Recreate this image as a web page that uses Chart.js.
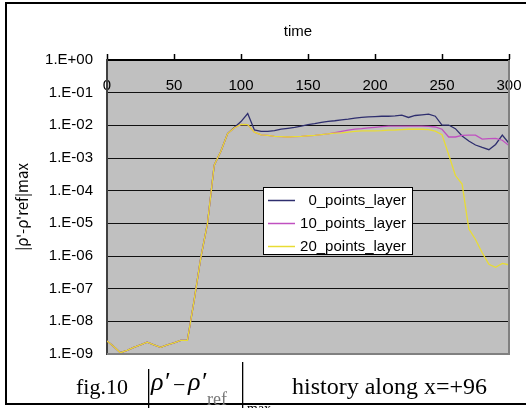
<!DOCTYPE html>
<html>
<head>
<meta charset="utf-8">
<script src="https://cdn.jsdelivr.net/npm/chart.js@4.4.0/dist/chart.umd.min.js"></script>
<style>
  html, body { margin: 0; padding: 0; background: #fff; }
  canvas { display: block; }
</style>
</head>
<body>
<canvas id="c" width="526" height="408"></canvas>
<script>
// time samples shared by all three series
const times = [
  0, 5, 10, 15, 20, 25, 30, 35, 40, 45, 50, 55, 60, 65, 70, 75, 80, 85, 90, 95,
  100, 105, 110, 115, 120, 125, 130, 135, 140, 145, 150, 155, 160, 165, 170, 175, 180, 185, 190, 195,
  200, 205, 210, 215, 220, 225, 230, 235, 240, 245, 250, 255, 260, 265, 270, 275, 280, 285, 290, 295,
  300
];

// |rho' - rho'ref|max for each absorbing-layer width
const layer0 = [
  2.5e-9, 1.7e-9, 1.1e-9, 1.3e-9, 1.6e-9, 1.9e-9, 2.3e-9, 1.9e-9, 1.6e-9, 1.9e-9,
  2.2e-9, 2.6e-9, 2.6e-9, 4.3e-8, 8.9e-7, 1.0e-5, 6.0e-4, 1.6e-3, 5.6e-3, 8.6e-3,
  1.3e-2, 2.3e-2, 7.2e-3, 6.5e-3, 6.5e-3, 6.9e-3, 7.6e-3, 8.1e-3, 8.7e-3, 9.5e-3,
  1.05e-2, 1.12e-2, 1.23e-2, 1.32e-2, 1.38e-2, 1.48e-2, 1.55e-2, 1.66e-2, 1.74e-2, 1.82e-2,
  1.86e-2, 1.9e-2, 1.9e-2, 1.95e-2, 2.04e-2, 1.74e-2, 2.0e-2, 2.1e-2, 2.2e-2, 1.9e-2,
  1.02e-2, 1.02e-2, 7.9e-3, 4.7e-3, 3.3e-3, 2.5e-3, 2.1e-3, 1.8e-3, 2.6e-3, 5.0e-3,
  2.8e-3
];
const layer10 = [
  2.5e-9, 1.7e-9, 1.1e-9, 1.3e-9, 1.6e-9, 1.9e-9, 2.3e-9, 1.9e-9, 1.6e-9, 1.9e-9,
  2.2e-9, 2.6e-9, 2.6e-9, 4.3e-8, 8.9e-7, 1.0e-5, 6.0e-4, 1.6e-3, 5.6e-3, 8.3e-3,
  1.07e-2, 1.05e-2, 6.2e-3, 5.1e-3, 4.9e-3, 4.6e-3, 4.5e-3, 4.4e-3, 4.5e-3, 4.6e-3,
  4.8e-3, 4.9e-3, 5.2e-3, 5.5e-3, 6.0e-3, 6.5e-3, 7.1e-3, 7.6e-3, 7.9e-3, 8.3e-3,
  8.7e-3, 9.1e-3, 9.5e-3, 9.5e-3, 9.5e-3, 9.5e-3, 9.5e-3, 9.5e-3, 9.3e-3, 8.9e-3,
  7.6e-3, 4.4e-3, 4.4e-3, 4.9e-3, 5.0e-3, 5.0e-3, 3.8e-3, 3.9e-3, 4.0e-3, 3.5e-3,
  2.4e-3
];
const layer20 = [
  2.5e-9, 1.7e-9, 1.1e-9, 1.3e-9, 1.6e-9, 1.9e-9, 2.3e-9, 1.9e-9, 1.6e-9, 1.9e-9,
  2.2e-9, 2.6e-9, 2.6e-9, 4.3e-8, 8.9e-7, 1.0e-5, 6.0e-4, 1.6e-3, 5.6e-3, 8.3e-3,
  1.07e-2, 1.05e-2, 6.2e-3, 5.1e-3, 4.9e-3, 4.6e-3, 4.5e-3, 4.4e-3, 4.5e-3, 4.6e-3,
  4.8e-3, 4.9e-3, 5.2e-3, 5.5e-3, 5.8e-3, 5.9e-3, 6.2e-3, 6.5e-3, 6.8e-3, 6.8e-3,
  6.8e-3, 6.9e-3, 7.1e-3, 7.2e-3, 7.4e-3, 7.6e-3, 7.6e-3, 7.6e-3, 7.4e-3, 6.6e-3,
  5.2e-3, 1.26e-3, 2.9e-4, 1.6e-4, 6.8e-6, 3.2e-6, 1.26e-6, 5.6e-7, 4.5e-7, 5.9e-7,
  5.4e-7
];

const seriesNames = ['0_points_layer', '10_points_layer', '20_points_layer'];
const seriesColors = ['#2e2e6e', '#c050c0', '#e8dc34'];

const xTickValues = [0, 50, 100, 150, 200, 250, 300];
const yTickValues = [1, 1e-1, 1e-2, 1e-3, 1e-4, 1e-5, 1e-6, 1e-7, 1e-8, 1e-9];
const yTickLabels = ['1.E+00', '1.E-01', '1.E-02', '1.E-03', '1.E-04',
                     '1.E-05', '1.E-06', '1.E-07', '1.E-08', '1.E-09'];

const toPoints = (vals) => vals.map((v, i) => ({ x: times[i], y: v }));

Chart.defaults.font.family = '"Liberation Sans", Arial, sans-serif';
Chart.defaults.font.size = 15;
Chart.defaults.color = '#000';

// grey plot area, its frame, the page frame, legend box and caption
const decor = {
  id: 'decor',
  beforeDraw(chart) {
    const { ctx, chartArea: a } = chart;
    ctx.save();
    ctx.fillStyle = '#c0c0c0';
    ctx.fillRect(a.left, a.top, a.right - a.left, a.bottom - a.top);
    ctx.restore();
  },
  afterDraw(chart) {
    const { ctx, chartArea: a } = chart;
    ctx.save();
    // plot area right / bottom edges
    ctx.strokeStyle = '#808080';
    ctx.lineWidth = 2;
    ctx.beginPath();
    ctx.moveTo(a.right, a.top);
    ctx.lineTo(a.right, a.bottom);
    ctx.lineTo(a.left, a.bottom);
    ctx.stroke();

    // horizontal axis title
    ctx.fillStyle = '#000';
    ctx.font = '15px "Liberation Sans", Arial, sans-serif';
    ctx.textAlign = 'center';
    ctx.textBaseline = 'middle';
    ctx.fillText('time', 298, 32);

    // legend
    const lx = 263, ly = 187, lw = 149, lh = 67;
    ctx.fillStyle = '#fff';
    ctx.fillRect(lx, ly, lw, lh);
    ctx.strokeStyle = '#000';
    ctx.lineWidth = 1;
    ctx.strokeRect(lx + 0.5, ly + 0.5, lw, lh);
    chart.data.datasets.forEach((ds, i) => {
      const y = 200 + i * 23;
      ctx.strokeStyle = ds.borderColor;
      ctx.lineWidth = 1.5;
      ctx.beginPath();
      ctx.moveTo(268, y + 0.5);
      ctx.lineTo(295, y + 0.5);
      ctx.stroke();
      ctx.fillStyle = '#000';
      ctx.font = '15px "Liberation Sans", Arial, sans-serif';
      ctx.textAlign = 'right';
      ctx.textBaseline = 'middle';
      ctx.fillText(ds.label, 406, y + 1);
    });

    // page frame
    ctx.strokeStyle = '#000';
    ctx.lineWidth = 2;
    ctx.beginPath();
    ctx.moveTo(526, 3);
    ctx.lineTo(6, 3);
    ctx.lineTo(6, 404);
    ctx.lineTo(526, 404);
    ctx.stroke();

    // caption
    ctx.fillStyle = '#000';
    ctx.textAlign = 'left';
    ctx.textBaseline = 'alphabetic';
    ctx.font = '22px "Liberation Serif", "Times New Roman", serif';
    ctx.fillText('fig.10', 76, 394);
    ctx.fillRect(148, 369, 1.3, 39);
    ctx.fillRect(242, 362, 1.3, 46);
    ctx.font = 'italic 26px "Liberation Serif", "Times New Roman", serif';
    ctx.fillText('ρ′', 151, 390);
    ctx.font = '22px "Liberation Serif", "Times New Roman", serif';
    ctx.fillText('−', 173, 392);
    ctx.font = 'italic 26px "Liberation Serif", "Times New Roman", serif';
    ctx.fillText('ρ′', 188, 390);
    ctx.fillStyle = '#777';
    ctx.font = '18px "Liberation Serif", "Times New Roman", serif';
    ctx.fillText('ref', 207, 405);
    ctx.fillStyle = '#000';
    ctx.font = '14px "Liberation Serif", "Times New Roman", serif';
    ctx.fillText('max', 247, 413);
    ctx.font = '24px "Liberation Serif", "Times New Roman", serif';
    ctx.fillText('history along x=+96', 292, 394);
    ctx.restore();
  }
};

new Chart(document.getElementById('c'), {
  type: 'line',
  data: {
    datasets: [
      { label: seriesNames[0], data: toPoints(layer0), borderColor: seriesColors[0], order: 2 },
      { label: seriesNames[1], data: toPoints(layer10), borderColor: seriesColors[1], order: 1 },
      { label: seriesNames[2], data: toPoints(layer20), borderColor: seriesColors[2], order: 0 }
    ]
  },
  options: {
    responsive: false,
    animation: false,
    devicePixelRatio: 1,
    layout: { padding: { left: 0, top: 0, right: 17, bottom: 54 } },
    elements: {
      point: { radius: 0 },
      line: { borderWidth: 1.3, tension: 0, fill: false }
    },
    plugins: {
      legend: { display: false },
      tooltip: { enabled: false }
    },
    scales: {
      x: {
        type: 'linear',
        position: 'top',
        min: 0,
        max: 300,
        afterBuildTicks: (scale) => { scale.ticks = xTickValues.map(v => ({ value: v })); },
        afterFit: (scale) => { scale.height = 60; },
        ticks: {
          mirror: true,
          padding: 4,
          maxRotation: 0,
          autoSkip: false,
          color: '#000',
          font: { size: 15, lineHeight: '44px' }
        },
        grid: {
          drawOnChartArea: false,
          drawTicks: true,
          tickLength: 6,
          tickColor: '#000',
          tickWidth: 1.5
        },
        border: { display: true, color: '#000', width: 2 }
      },
      y: {
        type: 'logarithmic',
        position: 'left',
        min: 1e-9,
        max: 1,
        afterBuildTicks: (scale) => { scale.ticks = yTickValues.map(v => ({ value: v })); },
        afterFit: (scale) => { scale.width = 107; },
        ticks: {
          padding: 14,
          autoSkip: false,
          color: '#000',
          font: { size: 15 },
          callback: (value) => {
            const i = yTickValues.findIndex(v => Math.abs(Math.log10(v) - Math.log10(value)) < 1e-6);
            return i >= 0 ? yTickLabels[i] : '';
          }
        },
        grid: {
          color: '#111',
          lineWidth: 1,
          drawTicks: false
        },
        border: { display: true, color: '#404040', width: 2 },
        title: {
          display: true,
          text: "|ρ'-ρ'ref|max",
          color: '#000',
          font: { size: 15, family: '"Noto Sans CJK JP", "Liberation Sans", sans-serif' },
          padding: { top: 13, bottom: 0 }
        }
      }
    }
  },
  plugins: [decor]
});
</script>
</body>
</html>
